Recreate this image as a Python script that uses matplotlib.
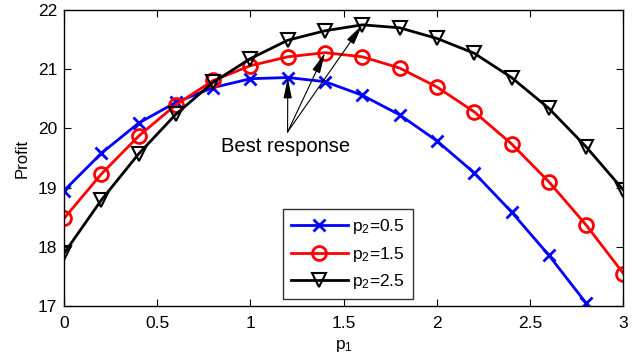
import matplotlib
matplotlib.use("Agg")
import matplotlib.pyplot as plt

plt.rcParams['font.family'] = ['Liberation Sans', 'DejaVu Sans']
plt.rcParams['mathtext.fontset'] = 'custom'
plt.rcParams['mathtext.rm'] = 'Liberation Sans'
plt.rcParams['mathtext.it'] = 'Liberation Sans'

p1 = [0.0, 0.2, 0.4, 0.6, 0.8, 1.0, 1.2, 1.4, 1.6, 1.8, 2.0, 2.2, 2.4, 2.6, 2.8, 3.0]
profit_p2_05 = [18.95, 19.58, 20.09, 20.44, 20.69, 20.84, 20.86, 20.79, 20.56, 20.23, 19.79, 19.25, 18.59, 17.86, 17.05]
profit_p2_15 = [18.48, 19.23, 19.87, 20.40, 20.81, 21.06, 21.21, 21.28, 21.21, 21.02, 20.70, 20.28, 19.74, 19.10, 18.37, 17.55]
profit_p2_25 = [17.89, 18.79, 19.57, 20.24, 20.78, 21.18, 21.49, 21.65, 21.75, 21.70, 21.52, 21.27, 20.86, 20.34, 19.69, 18.96]
labels = ['p$_2$=0.5', 'p$_2$=1.5', 'p$_2$=2.5']
best_x = [1.2, 1.4, 1.6]
best_y = [20.86, 21.28, 21.75]

fig = plt.figure(figsize=(6.44, 3.58), dpi=100)
ax = fig.add_axes([0.0994, 0.145, 0.8686, 0.827])

ax.plot(p1[:len(profit_p2_05)], profit_p2_05, color='blue', lw=2, marker='x', ms=8, mew=2, label=labels[0])
ax.plot(p1, profit_p2_15, color='red', lw=2, marker='o', ms=10, mew=2, mfc='none', label=labels[1])
ax.plot(p1, profit_p2_25, color='black', lw=2, marker='v', ms=10.5, mew=1.5, mfc='none', label=labels[2])

ax.set_xlim(0, 3)
ax.set_ylim(17, 22)
ax.set_xticks([0, 0.5, 1, 1.5, 2, 2.5, 3])
ax.set_xticklabels(['0', '0.5', '1', '1.5', '2', '2.5', '3'])
ax.set_yticks([17, 18, 19, 20, 21, 22])
ax.tick_params(direction='in', top=True, right=True, labelsize=12.5, length=5)
ax.tick_params(axis='x', pad=7)
ax.tick_params(axis='y', pad=5)
for s in ax.spines.values():
    s.set_linewidth(1.0)
ax.set_xlabel('p$_1$', fontsize=12.5, labelpad=5)
ax.set_ylabel('Profit', fontsize=12, labelpad=6)

start = (1.199, 19.94)
for bx, by in zip(best_x, best_y):
    ax.annotate('', xy=(bx, by), xytext=start,
                arrowprops=dict(arrowstyle='-|>,head_width=0.18,head_length=0.9', color='black',
                                lw=0.8, mutation_scale=14, shrinkA=0, shrinkB=0))
ax.text(1.19, 19.69, 'Best response', fontsize=14.5, ha='center', va='center')

leg = ax.legend(loc='lower left', bbox_to_anchor=(0.391, 0.023), fontsize=12.5, frameon=True,
                fancybox=False, edgecolor='black', handlelength=3.3, borderpad=0.45,
                labelspacing=0.5, handletextpad=0.25, borderaxespad=0)
leg.get_frame().set_linewidth(1.0)

fig.savefig('out.png', dpi=100)
